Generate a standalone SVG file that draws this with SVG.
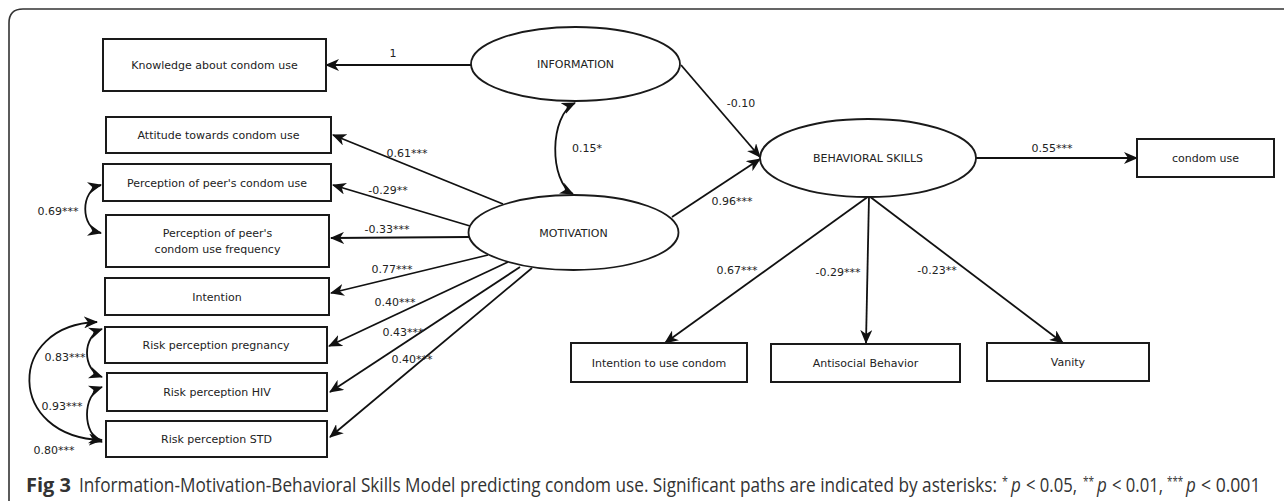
<svg xmlns="http://www.w3.org/2000/svg" width="1284" height="501" viewBox="0 0 1284 501">
<defs>
<marker id="ah" viewBox="0 0 14 12" markerWidth="14" markerHeight="12" refX="13" refY="6" orient="auto-start-reverse" markerUnits="userSpaceOnUse">
<path d="M0,0 L14,6 L0,12 L4,6 z" fill="#111"/>
</marker>
<style>
.box{fill:#fff;stroke:#1a1a1a;stroke-width:2}
.ell{fill:#fff;stroke:#1a1a1a;stroke-width:1.8}
.t{font-family:"DejaVu Sans",Verdana,sans-serif;font-size:11px;fill:#222;text-anchor:middle}
.lbl{font-family:"DejaVu Sans",Verdana,sans-serif;font-size:11px;fill:#222;text-anchor:middle}
.c{fill:none;stroke:#111;stroke-width:1.8;marker-end:url(#ah)}
.d{fill:none;stroke:#111;stroke-width:1.8;marker-start:url(#ah);marker-end:url(#ah)}
.cap{font-family:"Open Sans","Liberation Sans",sans-serif;font-size:20px;fill:#333}
.sup{font-family:"Open Sans","Liberation Sans",sans-serif;font-size:12px;fill:#333}
.it{font-style:italic}
</style>
</defs>
<rect width="1284" height="501" fill="#fff"/>
<path d="M9,501 L9,23 Q9,9 23,9 L1284,9" fill="none" stroke="#333" stroke-width="1.6"/>

<g id="connectors">
<path class="c" d="M471,65 L326,65"/>
<path class="c" d="M681,65 L760,157"/>
<path class="c" d="M672,217 L760,159"/>
<path class="d" d="M575,103 C549,115 549,182 573,194"/>
<path class="c" d="M503,204 L333,135"/>
<path class="c" d="M470,226 L333,185"/>
<path class="c" d="M469,237 L331,238"/>
<path class="c" d="M488,255 L331,293"/>
<path class="c" d="M508,262 L329,346"/>
<path class="c" d="M520,267 L330,392"/>
<path class="c" d="M532,268 L330,437"/>
<path class="d" d="M101,185 C80,190 80,228 101,233"/>
<path class="d" d="M102,329 C82,336 82,370 102,377"/>
<path class="d" d="M102,387 C82,394 82,435 102,442"/>
<path class="d" d="M97,322 C6,325 6,437 102,440"/>
<path class="c" d="M976,158 L1137,158"/>
<path class="c" d="M869,196 L665,343"/>
<path class="c" d="M869,196 L866,343"/>
<path class="c" d="M869,196 L1063,343"/>
<text class="lbl" x="393" y="57">1</text>
<text class="lbl" x="741" y="107">-0.10</text>
<text class="lbl" x="732" y="205">0.96***</text>
<text class="lbl" x="587" y="152">0.15*</text>
<text class="lbl" x="407" y="157">0.61***</text>
<text class="lbl" x="388" y="194">-0.29**</text>
<text class="lbl" x="387" y="233">-0.33***</text>
<text class="lbl" x="392" y="273">0.77***</text>
<text class="lbl" x="395" y="306">0.40***</text>
<text class="lbl" x="403" y="336">0.43***</text>
<text class="lbl" x="412" y="363">0.40***</text>
<text class="lbl" x="58" y="215">0.69***</text>
<text class="lbl" x="65" y="361">0.83***</text>
<text class="lbl" x="62" y="410">0.93***</text>
<text class="lbl" x="54" y="454">0.80***</text>
<text class="lbl" x="737" y="274">0.67***</text>
<text class="lbl" x="838" y="276">-0.29***</text>
<text class="lbl" x="937" y="274">-0.23**</text>
<text class="lbl" x="1052" y="152">0.55***</text>
</g>

<g id="knowledge"><rect class="box" x="103" y="39" width="223" height="52"/><text class="t" x="214.5" y="69">Knowledge about condom use</text></g>
<g id="attitude"><rect class="box" x="106" y="117" width="225" height="36"/><text class="t" x="218.5" y="139">Attitude towards condom use</text></g>
<g id="peer"><rect class="box" x="103" y="164" width="228" height="37"/><text class="t" x="217" y="186.5">Perception of peer's condom use</text></g>
<g id="peerfreq"><rect class="box" x="106" y="215" width="223" height="52"/><text class="t" x="217.5" y="237">Perception of peer's</text><text class="t" x="217.5" y="253">condom use frequency</text></g>
<g id="intention"><rect class="box" x="105" y="278" width="224" height="37"/><text class="t" x="217" y="300.5">Intention</text></g>
<g id="pregnancy"><rect class="box" x="105" y="327" width="222" height="36"/><text class="t" x="216" y="349">Risk perception pregnancy</text></g>
<g id="hiv"><rect class="box" x="107" y="373" width="220" height="38"/><text class="t" x="217" y="396">Risk perception HIV</text></g>
<g id="std"><rect class="box" x="106" y="421" width="221" height="36"/><text class="t" x="216.5" y="443">Risk perception STD</text></g>

<g id="information"><ellipse class="ell" cx="575.5" cy="64" rx="104.5" ry="37"/><text class="t" x="575.5" y="68">INFORMATION</text></g>
<g id="motivation"><ellipse class="ell" cx="573.5" cy="232.5" rx="105" ry="37.5"/><text class="t" x="573.5" y="236.5">MOTIVATION</text></g>
<g id="behavioral"><ellipse class="ell" cx="868" cy="158" rx="108" ry="39"/><text class="t" x="868" y="162">BEHAVIORAL SKILLS</text></g>

<g id="condomuse"><rect class="box" x="1137" y="139" width="137" height="38"/><text class="t" x="1205.5" y="162">condom use</text></g>
<g id="intentionuse"><rect class="box" x="571" y="343" width="176" height="39"/><text class="t" x="659" y="366.5">Intention to use condom</text></g>
<g id="antisocial"><rect class="box" x="771" y="344" width="189" height="38"/><text class="t" x="865.5" y="367">Antisocial Behavior</text></g>
<g id="vanity"><rect class="box" x="987" y="343" width="162" height="38"/><text class="t" x="1068" y="366">Vanity</text></g>

<g id="caption">
<text class="cap" x="26" y="492" font-weight="bold" textLength="45" lengthAdjust="spacingAndGlyphs">Fig 3</text>
<text class="cap" transform="translate(79,492) scale(0.85,1)" textLength="1080" lengthAdjust="spacingAndGlyphs">Information-Motivation-Behavioral Skills Model predicting condom use. Significant paths are indicated by asterisks:</text>
<text class="sup" transform="translate(1002,486) scale(0.85,1)" textLength="7" lengthAdjust="spacingAndGlyphs">*</text>
<text class="cap it" transform="translate(1011,492) scale(0.85,1)">p</text>
<text class="cap" transform="translate(1026,492) scale(0.85,1)" textLength="60" lengthAdjust="spacingAndGlyphs">&lt; 0.05,</text>
<text class="sup" transform="translate(1083,486) scale(0.85,1)" textLength="13" lengthAdjust="spacingAndGlyphs">**</text>
<text class="cap it" transform="translate(1097,492) scale(0.85,1)">p</text>
<text class="cap" transform="translate(1112,492) scale(0.85,1)" textLength="60" lengthAdjust="spacingAndGlyphs">&lt; 0.01,</text>
<text class="sup" transform="translate(1167,486) scale(0.85,1)" textLength="19" lengthAdjust="spacingAndGlyphs">***</text>
<text class="cap it" transform="translate(1186,492) scale(0.85,1)">p</text>
<text class="cap" transform="translate(1201,492) scale(0.85,1)" textLength="70" lengthAdjust="spacingAndGlyphs">&lt; 0.001</text>
</g>
</svg>
